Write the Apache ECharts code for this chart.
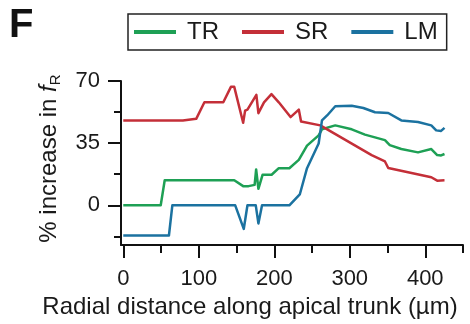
<!DOCTYPE html>
<html>
<head>
<meta charset="utf-8">
<script src="https://cdn.jsdelivr.net/npm/echarts@6/dist/echarts.min.js"></script>
<style>
html,body{margin:0;padding:0;background:#fff;}
#chart{width:470px;height:324px;}
</style>
</head>
<body>
<div id="chart"></div>
<script>
// Data: [radial distance (µm), % increase in fR]
var seriesNames = ['TR', 'SR', 'LM'];
var trData = [
  [0, 0], [49.6, 0], [54.9, 14.1], [147, 14.1], [158.8, 10.8], [166, 10.8], [174, 11.5],
  [176, 20.2], [179, 9.3], [184.5, 17.2], [196.5, 17.2], [206, 20.9], [220, 20.9],
  [232.5, 25.6], [243.4, 33.6], [258.8, 39.4], [263.2, 42.8], [280.8, 45], [302.6, 42.8],
  [320.1, 39.8], [346.6, 36.7], [353, 33.9], [368.3, 31.7], [390.4, 29.8], [408, 31.7],
  [415.8, 28.3], [421, 28.1], [425.5, 28.9]
];
var srData = [
  [0, 47.8], [79, 47.8], [80, 48.7], [96.6, 48.7], [107.5, 58], [132.5, 58], [142.6, 66.7],
  [147, 66.7], [158.8, 46.5], [161.4, 53.3], [164.5, 53.9], [176.3, 62.2], [179, 51.9],
  [186.4, 58], [196.3, 62.6], [206, 58], [221.6, 49.7], [232.5, 53.9], [235.5, 47.2],
  [261, 45], [329, 28.3], [346.6, 24.7], [351, 21], [408, 15.8], [415.8, 13.9], [425.5, 14.1]
];
var lmData = [
  [0, -17], [60.5, -17], [65, 0], [148.3, 0], [159.6, -13.3], [164.5, 0], [175.5, 0],
  [179, -10.2], [183.8, 0], [220, 0], [233.8, 6.1], [243.4, 20.9], [258.8, 34.8],
  [263.2, 47.8], [270, 50.6], [280.8, 55.8], [302.6, 56.1], [318, 54.8], [333.4, 52.4],
  [351, 52], [368.3, 47.8], [390.4, 46.9], [408, 45], [414.5, 42.2], [421, 41.9], [425.5, 43.6]
];
var xMajorTicks = [0, 100, 200, 300, 400];
var xMinorTicks = [50, 150, 250, 350, 450];
var yMajorTicks = [0, 35, 70];
var yMinorTicks = [-17.5, 17.5, 52.5];

var colors = ['#1ea055', '#c42f38', '#1b72a0'];
var FONT = 'Liberation Sans, Arial, Helvetica, sans-serif';
var TXT = '#1a1a1a';

var chart = echarts.init(document.getElementById('chart'), null, {renderer: 'canvas'});

function lineSeries(name, data, color) {
  return {
    name: name, type: 'line', data: data, xAxisIndex: 0, yAxisIndex: 0,
    showSymbol: false, symbol: 'none', animation: false,
    lineStyle: {color: color, width: 2.5, join: 'round'},
    itemStyle: {color: color}
  };
}

var option = {
  animation: false,
  backgroundColor: '#fff',
  color: colors,
  grid: {left: 121, right: 7, top: 81, bottom: 76, containLabel: false},
  legend: {
    data: seriesNames,
    left: 128, top: 14,
    orient: 'horizontal',
    padding: [6, 9, 6, 6],
    borderColor: '#222', borderWidth: 1.5,
    itemWidth: 42, itemHeight: 4, itemGap: 23,
    icon: 'rect',
    textStyle: {fontFamily: FONT, fontSize: 24, color: TXT, padding: [0, 0, 0, 6]}
  },
  xAxis: [{
    type: 'value', min: -3, max: 450, position: 'bottom',
    name: 'Radial distance along apical trunk (µm)',
    nameLocation: 'middle', nameGap: 49,
    nameTextStyle: {fontFamily: FONT, fontSize: 24, color: TXT, padding: [0, 84, 0, 0]},
    axisLine: {show: true, onZero: false, lineStyle: {color: '#111', width: 2}},
    axisTick: {show: true, inside: false, length: 13, customValues: xMajorTicks, lineStyle: {color: '#111', width: 2}},
    axisLabel: {show: true, margin: 23, customValues: xMajorTicks, fontFamily: FONT, fontSize: 22, color: TXT},
    splitLine: {show: false}
  }, {
    type: 'value', min: -3, max: 450, position: 'bottom',
    axisLine: {show: false, onZero: false},
    axisTick: {show: true, inside: false, length: 8, customValues: xMinorTicks, lineStyle: {color: '#111', width: 2}},
    axisLabel: {show: false},
    splitLine: {show: false}
  }],
  yAxis: [{
    type: 'value', min: -22.4, max: 70, position: 'left',
    name: '% increase in {i|f}{s|R}',
    nameLocation: 'middle', nameGap: 58, nameRotate: 90,
    nameTextStyle: {
      fontFamily: FONT, fontSize: 24, color: TXT, padding: [0, 0, 0, 9],
      rich: {
        i: {fontFamily: FONT, fontSize: 24, fontStyle: 'italic', color: TXT},
        s: {fontFamily: FONT, fontSize: 15, color: TXT, verticalAlign: 'bottom', padding: [12, 0, 0, 0]}
      }
    },
    axisLine: {show: true, onZero: false, lineStyle: {color: '#111', width: 2}},
    axisTick: {show: true, inside: false, length: 13, customValues: yMajorTicks, lineStyle: {color: '#111', width: 2}},
    axisLabel: {show: true, margin: 21, customValues: yMajorTicks, fontFamily: FONT, fontSize: 22, color: TXT},
    splitLine: {show: false}
  }, {
    type: 'value', min: -22.4, max: 70, position: 'left',
    axisLine: {show: false, onZero: false},
    axisTick: {show: true, inside: false, length: 7, customValues: yMinorTicks, lineStyle: {color: '#111', width: 2}},
    axisLabel: {show: false},
    splitLine: {show: false}
  }],
  graphic: [{
    type: 'text', left: 9, top: 6,
    style: {text: 'F', fontFamily: FONT, fontSize: 40, fontWeight: 'bold', fill: '#111'}
  }],
  series: [
    lineSeries('TR', trData, colors[0]),
    lineSeries('SR', srData, colors[1]),
    lineSeries('LM', lmData, colors[2])
  ]
};
chart.setOption(option);
</script>
</body>
</html>
